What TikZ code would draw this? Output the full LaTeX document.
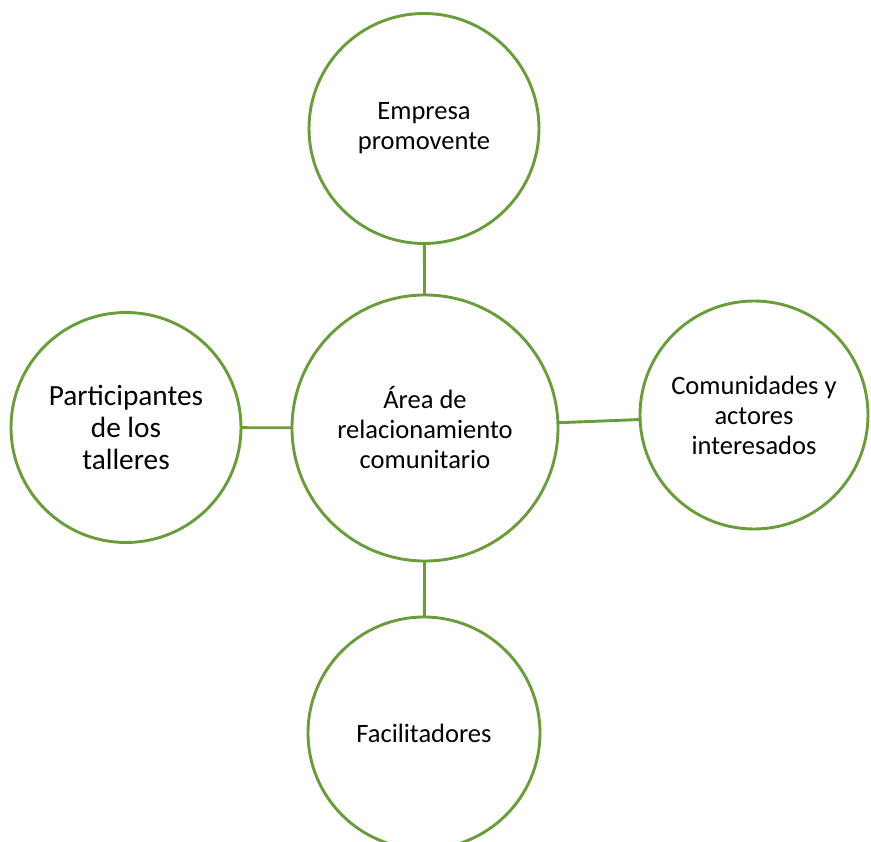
\documentclass[tikz,border=0pt]{standalone}
\usepackage{fontspec}
\setmainfont{Carlito}
\definecolor{lg}{RGB}{106,156,60}
\begin{document}
\begin{tikzpicture}[x=1pt,y=-1pt,
  bub/.style={circle,draw=lg,line width=2.9pt,fill=white,inner sep=0pt,outer sep=0pt,
    align=center,font=\fontsize{26.5}{30}\selectfont},
  link/.style={draw=lg,line width=2.9pt}]
\useasboundingbox (0,0) rectangle (871,842);
\node[bub,minimum size=266pt] (c) at (425,428) {Área de\\relacionamiento\\comunitario};
\node[bub,minimum size=230pt] (t) at (424,128.5) {Empresa\\promovente};
\node[bub,minimum size=230pt,font=\fontsize{29.3}{32}\selectfont] (l) at (126,427.5) {Participantes\\de los\\talleres};
\node[bub,minimum size=228pt] (r) at (754,415) {Comunidades y\\actores\\interesados};
\node[bub,minimum size=232pt] (b) at (424,733) {Facilitadores};
\draw[link] (c) -- (t);
\draw[link] (c) -- (l);
\draw[link] (c) -- (r);
\draw[link] (c) -- (b);
\end{tikzpicture}
\end{document}
